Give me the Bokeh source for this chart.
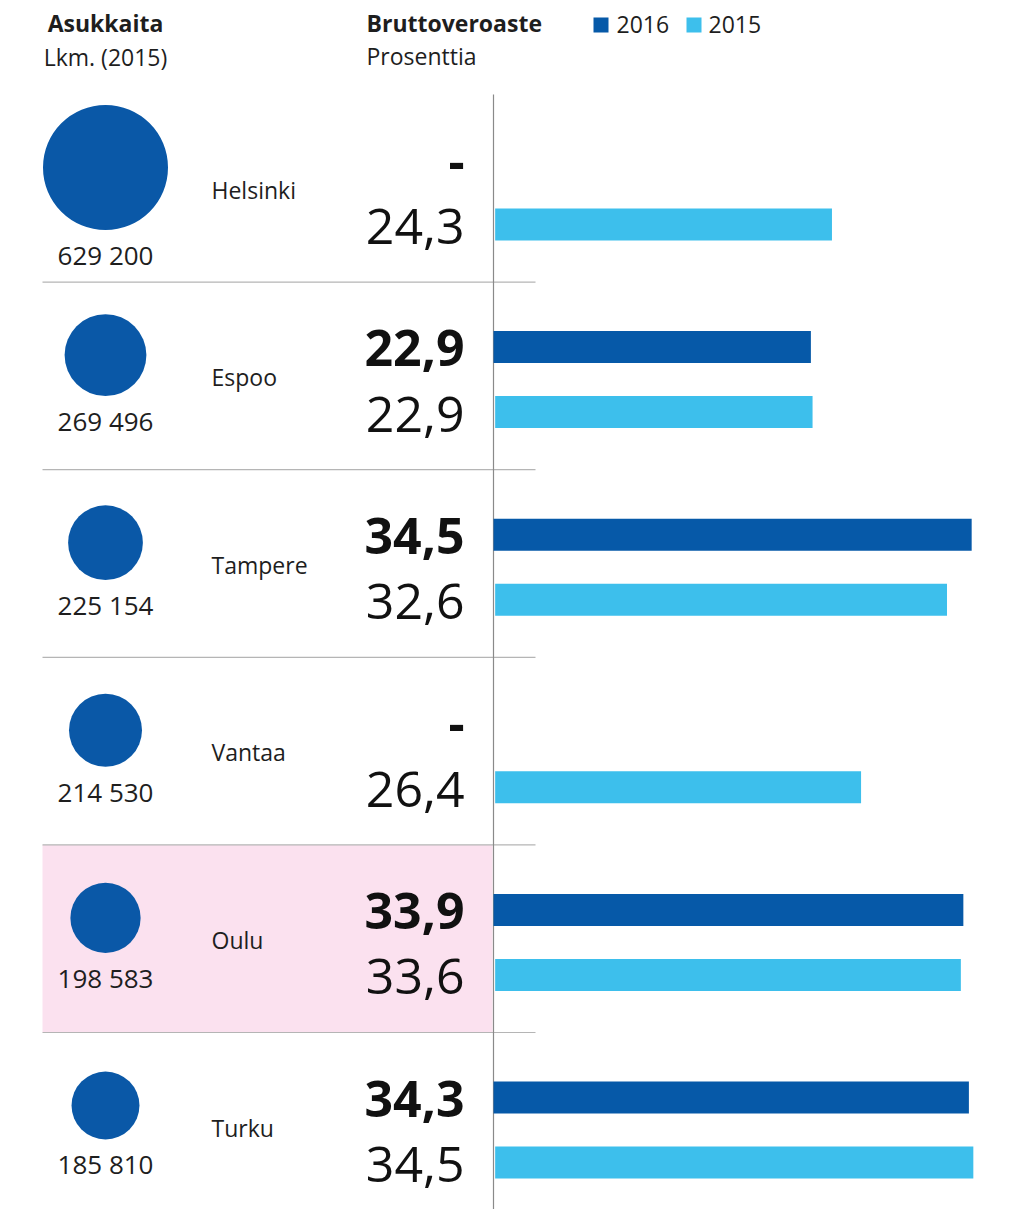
from bokeh.plotting import figure
from bokeh.models import Range1d
from bokeh.core.properties import value
from bokeh.embed import file_html
from bokeh.resources import INLINE
import math

# ---- data ----
cities = ["Helsinki", "Espoo", "Tampere", "Vantaa", "Oulu", "Turku"]
population = [629200, 269496, 225154, 214530, 198583, 185810]
population_labels = ["629 200", "269 496", "225 154", "214 530", "198 583", "185 810"]
rate_2016 = [None, 22.9, 34.5, None, 33.9, 34.3]
rate_2015 = [24.3, 22.9, 32.6, 26.4, 33.6, 34.5]
highlight_city = "Oulu"
legend_labels = ["2016", "2015"]

# ---- style / layout ----
FONT = "Open Sans"
C2016 = "#0659a8"
C2015 = "#3dbfec"
CIRC = "#0a58a7"
TXT = "#1e1e1e"
ROW0 = 94.0
ROWH = 187.6
ZERO_PX = 493.0
PX_PER_PCT = 13.86

W, H = 1002, 1209
p = figure(width=W, height=H, output_backend="svg", toolbar_location=None,
           x_range=Range1d((0 - ZERO_PX) / PX_PER_PCT, (W - ZERO_PX) / PX_PER_PCT),
           y_range=Range1d(H, 0), min_border=0, x_axis_type=None, y_axis_type=None)
p.extra_x_ranges = {"px": Range1d(0, W)}
p.outline_line_color = None
p.grid.visible = False
p.background_fill_color = "white"
p.border_fill_color = "white"

n = len(cities)
row_top = [ROW0 + ROWH * i for i in range(n)]

# highlight background
for i, c in enumerate(cities):
    if c == highlight_city:
        p.quad(left=42, right=492, top=row_top[i], bottom=row_top[i] + ROWH,
               fill_color="#fbe1ef", line_color=None, x_range_name="px")

# separators
for i in range(1, n):
    p.line(x=[42, 535], y=[row_top[i], row_top[i]], line_color="#b5b5b5",
           line_width=1.2, x_range_name="px")
# vertical axis line
p.line(x=[ZERO_PX, ZERO_PX], y=[ROW0, 1217], line_color="#8a8a8a", line_width=1.2,
       x_range_name="px")

# bars
y16 = [row_top[i] + 65 for i in range(n) if rate_2016[i] is not None]
v16 = [rate_2016[i] for i in range(n) if rate_2016[i] is not None]
p.hbar(y=y16, left=0, right=v16, height=32, fill_color=C2016, line_color=None)
y15 = [row_top[i] + 130 for i in range(n)]
p.hbar(y=y15, left=0.12, right=[v + 0.12 for v in rate_2015], height=32,
       fill_color=C2015, line_color=None)

# circles
diam = [125.0 * math.sqrt(pp / population[0]) for pp in population]
cy = [row_top[i] + 73 for i in range(n)]
p.scatter(x=[105] * n, y=cy, size=diam, marker="circle", fill_color=CIRC,
          line_color=None, x_range_name="px")
p.text(x=[105] * n, y=[cy[i] + diam[i] / 2 + 25 for i in range(n)], text=population_labels,
       text_font=value(FONT), text_font_size="26px", text_color=TXT, text_align="center",
       text_baseline="middle", x_range_name="px")

# city names
p.text(x=[211] * n, y=[row_top[i] + 95 for i in range(n)], text=cities,
       text_font=value(FONT), text_font_size="23px", text_color=TXT, text_align="left",
       text_baseline="middle", x_range_name="px")

def fmt(v):
    return "-" if v is None else f"{v:.1f}".replace(".", ",")

# values
p.text(x=[464] * n, y=[row_top[i] + 66 for i in range(n)], text=[fmt(v) for v in rate_2016],
       text_font=value(FONT), text_font_size="50px", text_font_style="bold", text_color="#111",
       text_align="right", text_baseline="middle", x_range_name="px")
p.text(x=[464] * n, y=[row_top[i] + 132 for i in range(n)], text=[fmt(v) for v in rate_2015],
       text_font=value(FONT), text_font_size="50px", text_color="#111",
       text_align="right", text_baseline="middle", x_range_name="px")

# headers
p.text(x=[105, 366], y=[22, 22], text=["Asukkaita", "Bruttoveroaste"],
       text_font=value(FONT), text_font_size="23px", text_font_style="bold", text_color=TXT,
       text_align=["center", "left"], text_baseline="middle", x_range_name="px")
p.text(x=[105, 366], y=[56, 55], text=["Lkm. (2015)", "Prosenttia"],
       text_font=value(FONT), text_font_size="23px", text_color=TXT,
       text_align=["center", "left"], text_baseline="middle", x_range_name="px")

# legend
p.scatter(x=[600.5, 693.5], y=[24.5, 24.5], size=15, marker="square",
          fill_color=[C2016, C2015], line_color=None, x_range_name="px")
p.text(x=[616, 708], y=[24, 24], text=legend_labels, text_font=value(FONT),
       text_font_size="23px", text_color=TXT, text_align="left", text_baseline="middle",
       x_range_name="px")

open("out.html", "w").write(file_html(p, INLINE))
